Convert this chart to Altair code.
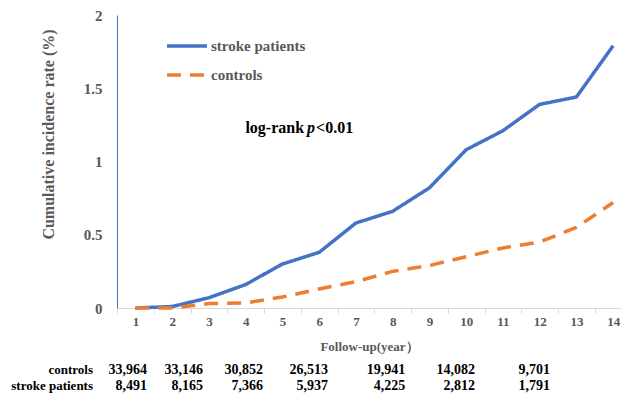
import altair as alt
import pandas as pd

years = list(range(1, 15))
stroke_rate = [0, 0.01, 0.07, 0.16, 0.30, 0.38, 0.58, 0.66, 0.82, 1.08, 1.21, 1.39, 1.44, 1.79]
controls_rate = [0, 0, 0.03, 0.035, 0.075, 0.13, 0.18, 0.25, 0.29, 0.35, 0.41, 0.45, 0.55, 0.72]
series_names = ["stroke patients", "controls"]

at_risk_rows = ["controls", "stroke patients"]
controls_at_risk = ["33,964", "33,146", "30,852", "26,513", "19,941", "14,082", "9,701"]
stroke_at_risk = ["8,491", "8,165", "7,366", "5,937", "4,225", "2,812", "1,791"]

# layout (axis units) for the at-risk table columns (right edges)
table_x = [1.316, 2.84, 4.47, 6.24, 8.34, 10.24, 12.28]

SERIF = "Liberation Serif"
GRAY = "#595959"
BLUE = "#4472C4"
ORANGE = "#ED7D31"

PLOT_W = 504
X_MAX = 14.214
HALF_BAND = PLOT_W / (X_MAX - 0.5) / 2

lines_df = pd.DataFrame(
    {
        "year": years * 2,
        "rate": stroke_rate + controls_rate,
        "series": [series_names[0]] * len(years) + [series_names[1]] * len(years),
    }
)

xscale = alt.Scale(domain=[0.5, X_MAX], nice=False, zero=False)
yscale = alt.Scale(domain=[0, 2], nice=False)

x_axis = alt.Axis(
    values=years,
    title="Follow-up(year）",
    grid=False,
    labelOverlap=False,
    labelFlush=False,
    labelBound=False,
    domainColor="#D9D9D9",
    tickColor="#D9D9D9",
    tickSize=5,
    tickOffset=-HALF_BAND,
    labelOffset=HALF_BAND,
    labelPadding=2,
    labelFont=SERIF,
    labelFontSize=13,
    labelFontWeight="bold",
    labelColor=GRAY,
    titleFont=SERIF,
    titleFontSize=13,
    titleFontWeight="bold",
    titleColor=GRAY,
    titlePadding=12,
)
y_axis = alt.Axis(
    values=[0, 0.5, 1, 1.5, 2],
    labelExpr="'' + datum.value",
    title="Cumulative incidence rate  (%)",
    grid=False,
    ticks=False,
    domainColor=BLUE,
    labelPadding=15,
    labelFont=SERIF,
    labelFontSize=15,
    labelFontWeight="bold",
    labelColor=GRAY,
    titleFont=SERIF,
    titleFontSize=16,
    titleFontWeight="bold",
    titleColor=GRAY,
    titleX=-69,
    titleY=119,
    titleAlign="center",
    titleBaseline="middle",
)

legend = alt.Legend(
    title=None,
    orient="none",
    legendX=48,
    legendY=23,
    symbolType="stroke",
    symbolSize=1600,
    symbolStrokeWidth=3.5,
    clipHeight=16,
    rowPadding=13,
    labelFont=SERIF,
    labelFontSize=15,
    labelFontWeight="bold",
    labelColor=GRAY,
    labelOffset=2,
    padding=0,
)

lines = alt.Chart(lines_df).mark_line(strokeWidth=3.5).encode(
    x=alt.X("year:Q", scale=xscale, axis=x_axis, title="Follow-up(year）"),
    y=alt.Y("rate:Q", scale=yscale, axis=y_axis, title="Cumulative incidence rate  (%)"),
    color=alt.Color(
        "series:N",
        scale=alt.Scale(domain=series_names, range=[BLUE, ORANGE]),
        legend=legend,
        sort=series_names,
    ),
    strokeDash=alt.StrokeDash(
        "series:N",
        scale=alt.Scale(domain=series_names, range=[[1, 0], [14, 9]]),
        legend=legend,
        sort=series_names,
    ),
)

ann_df = pd.DataFrame({"x": [5.59], "y": [1.23]})
ann_base = alt.Chart(ann_df).encode(
    x=alt.X("x:Q", scale=xscale, axis=x_axis, title="Follow-up(year）"),
    y=alt.Y("y:Q", scale=yscale, axis=y_axis, title="Cumulative incidence rate  (%)"),
)
ann1 = ann_base.mark_text(
    text="log-rank", align="right", baseline="middle", font=SERIF, fontSize=16, fontWeight="bold", color="black"
)
ann2 = ann_base.mark_text(
    text="p", align="left", baseline="middle", dx=3, font=SERIF, fontSize=16, fontWeight="bold",
    fontStyle="italic", color="black"
)
ann3 = ann_base.mark_text(
    text="<0.01", align="left", baseline="middle", dx=12, font=SERIF, fontSize=16, fontWeight="bold", color="black"
)

table_df = pd.DataFrame(
    {
        "x": table_x * 2,
        "label": controls_at_risk + stroke_at_risk,
        "row": [at_risk_rows[0]] * len(table_x) + [at_risk_rows[1]] * len(table_x),
    }
)
row_y = {"controls": 355, "stroke patients": 371}

table_layers = []
for r in at_risk_rows:
    sub = table_df[table_df["row"] == r]
    table_layers.append(
        alt.Chart(sub).mark_text(
            align="right", baseline="middle", font=SERIF, fontSize=14, fontWeight="bold", color="black"
        ).encode(
            x=alt.X("x:Q", scale=xscale, axis=x_axis, title="Follow-up(year）"),
            y=alt.value(row_y[r]),
            text="label:N",
        )
    )
    table_layers.append(
        alt.Chart(pd.DataFrame({"row": [r]})).mark_text(
            align="right", baseline="middle", font=SERIF, fontSize=13, fontWeight="bold", color="black"
        ).encode(x=alt.value(-24), y=alt.value(row_y[r]), text="row:N")
    )

chart = (
    alt.layer(lines, ann1, ann2, ann3, *table_layers)
    .properties(
        width=PLOT_W,
        height=293,
        padding={"left": 109, "top": 7, "right": 0, "bottom": 88},
        autosize=alt.AutoSizeParams(type="none"),
        background="white",
    )
    .configure_view(stroke=None)
    .configure_axis(labelOverlap=False)
)

chart.save("out.html", embed_options={"renderer": "svg", "actions": False})
